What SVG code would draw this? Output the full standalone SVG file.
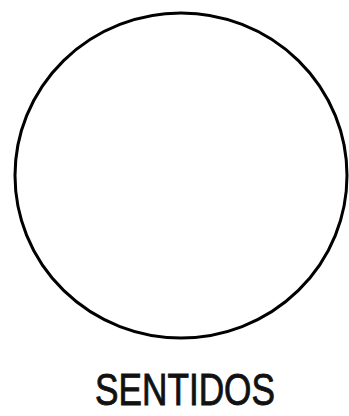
<svg xmlns="http://www.w3.org/2000/svg" width="349" height="416" viewBox="0 0 349 416">
<style>
.shape{fill:none;stroke:#000;stroke-width:3}
.label{font-family:"Liberation Sans",Arial,sans-serif;font-size:45px;fill:#111;stroke:#111;stroke-width:0.9}
</style>
<rect width="349" height="416" fill="#fff"/>
<g id="circle-node">
<ellipse class="shape" cx="181" cy="175.5" rx="166" ry="162.5"/>
</g>
<g id="title">
<text class="label" x="95" y="405" textLength="180" lengthAdjust="spacingAndGlyphs">SENTIDOS</text>
</g>
</svg>
